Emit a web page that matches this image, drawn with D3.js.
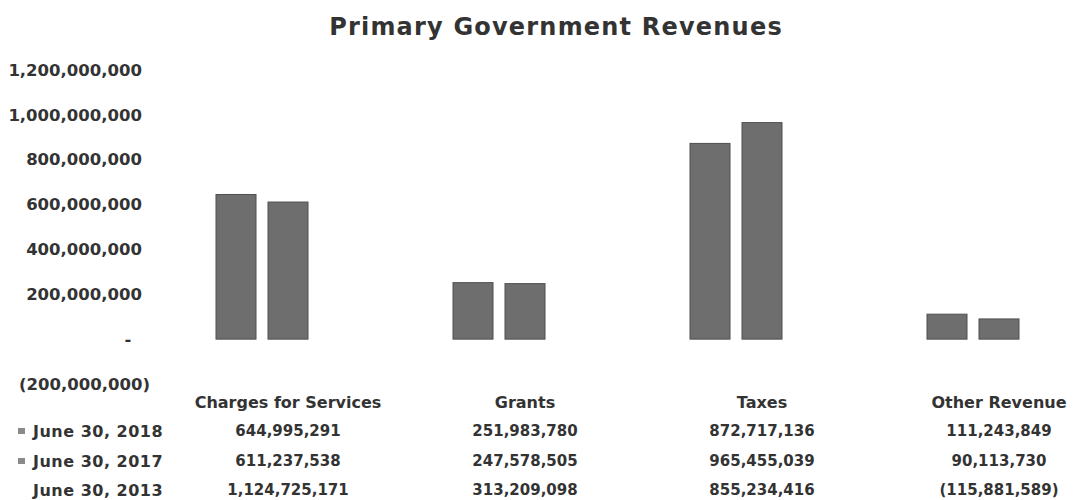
<!DOCTYPE html>
<html><head><meta charset="utf-8">
<script src="https://cdn.jsdelivr.net/npm/d3@7/dist/d3.min.js"></script>
<style>body{margin:0;background:#fff}svg{display:block}text{font-family:"DejaVu Sans",sans-serif;font-weight:700;fill:#333}</style>
</head><body><svg id="c" width="1073" height="500"></svg>
<script>
const categories = ["Charges for Services","Grants","Taxes","Other Revenue"];
const seriesNames = ["June 30, 2018","June 30, 2017","June 30, 2013"];
const values2018 = [644995291, 251983780, 872717136, 111243849];
const values2017 = [611237538, 247578505, 965455039, 90113730];
const values2013 = [1124725171, 313209098, 855234416, -115881589];
const yTicks = [-200000000, 0, 200000000, 400000000, 600000000, 800000000, 1000000000, 1200000000];
const seriesValues = [values2018, values2017, values2013];
const seriesFill = ["#6e6e6e", "#6e6e6e", "#ffffff"];
const seriesStroke = ["#4f4f4f", "#4f4f4f", "none"];

const svg = d3.select("#c");
const x0 = d3.scaleBand().domain(categories).range([169.5, 1117.5]).padding(0);
const x1 = d3.scaleBand().domain(seriesNames).range([46.5, 190.5]).paddingInner(12/52).paddingOuter(0);
const y = d3.scaleLinear().domain([-200000000, 1200000000]).range([384, 70]);
const fmt = d3.format(",");
const acct = v => v < 0 ? "(" + fmt(-v) + ")" : (v === 0 ? "-" : fmt(v));

svg.append("text").attr("x", 556).attr("y", 35).attr("text-anchor", "middle")
  .style("font-size", "24px").style("letter-spacing", "1.2px").text("Primary Government Revenues");

// y axis labels
const yAxis = d3.axisLeft(y).tickValues(yTicks).tickSize(0).tickPadding(0).tickFormat(acct);
const ya = svg.append("g").attr("transform", "translate(142,0)").call(yAxis);
ya.select(".domain").remove();
ya.selectAll("text").style("font-size", "16.5px").attr("fill", "#333")
  .style("font-family", '"DejaVu Sans",sans-serif').style("font-weight", "700")
  .each(function(d){
    const t = d3.select(this);
    if (d === 0) t.attr("text-anchor", "middle").attr("dx", "-14");
    if (d < 0) t.attr("dx", "8");
  });

// bars
seriesNames.forEach((s, si) => {
  svg.append("g").selectAll("rect").data(categories).join("rect")
    .attr("x", c => x0(c) + x1(s))
    .attr("width", x1.bandwidth())
    .attr("y", (c, i) => y(Math.max(0, seriesValues[si][i])))
    .attr("height", (c, i) => Math.abs(y(seriesValues[si][i]) - y(0)))
    .attr("fill", seriesFill[si])
    .attr("stroke", seriesStroke[si]).attr("stroke-width", 1);
});

// data table
const rowY = [431, 461, 490];
svg.append("g").selectAll("text").data(categories).join("text")
  .attr("x", c => x0(c) + x0.bandwidth()/2).attr("y", 402).attr("dy", "0.35em")
  .attr("text-anchor", "middle").style("font-size", "16px").text(c => c);
seriesNames.forEach((s, si) => {
  const g = svg.append("g");
  g.append("text").attr("x", 33).attr("y", rowY[si]).attr("dy", "0.35em")
    .style("font-size", "16px").style("letter-spacing", "0.5px").text(s);
  if (seriesFill[si] !== "#ffffff") {
    g.append("rect").attr("x", 18).attr("y", rowY[si] - 3).attr("width", 7).attr("height", 6)
      .attr("fill", "#8a8a8a");
  }
  g.selectAll("text.v").data(categories).join("text").attr("class", "v")
    .attr("x", c => x0(c) + x0.bandwidth()/2).attr("y", rowY[si]).attr("dy", "0.35em")
    .attr("text-anchor", "middle").style("font-size", "15px")
    .text((c, i) => acct(seriesValues[si][i]));
});
</script></body></html>
